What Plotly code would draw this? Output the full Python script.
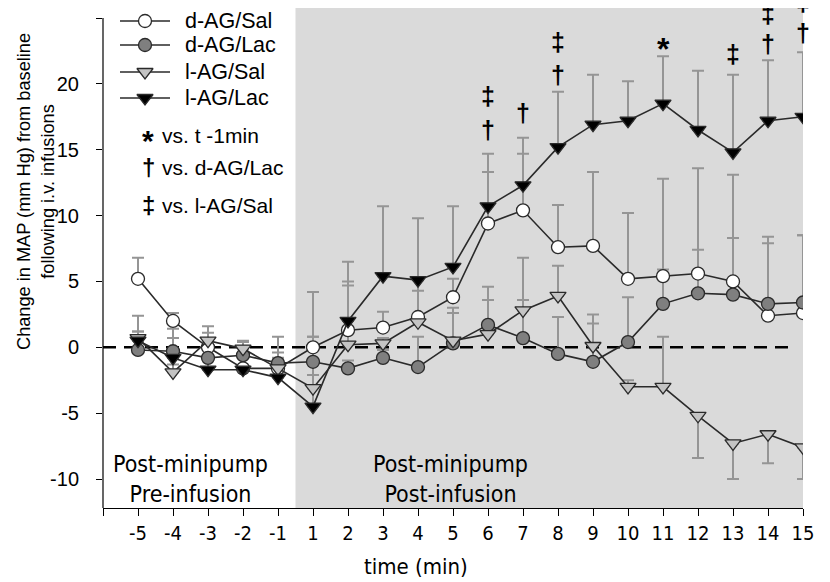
import plotly.graph_objects as go

# ---- data ----
time_labels = ["-5", "-4", "-3", "-2", "-1", "1", "2", "3", "4", "5", "6", "7",
               "8", "9", "10", "11", "12", "13", "14", "15"]
positions = list(range(1, 21))

y_tick_vals = [-10, -5, 0, 5, 10, 15, 20, 25]
y_tick_text = ["-10", "-5", "0", "5", "10", "15", "20", "25"]

dAG_Sal = [5.2, 2.0, 0.0, -1.6, -1.6, 0.0, 1.3, 1.5, 2.3, 3.8, 9.4, 10.4, 7.6, 7.7, 5.2, 5.4, 5.6, 5.0, 2.4, 2.6]
dAG_Sal_err = [1.6, 0.6, 1.6, 2.0, 2.4, 0.8, 3.7, 1.2, 3.0, 1.4, 3.9, 4.3, 3.2, 5.6, 5.0, 7.4, 8.0, 8.1, 6.0, 5.9]

dAG_Lac = [-0.2, -0.3, -0.8, -0.6, -1.2, -1.1, -1.6, -0.8, -1.5, 0.3, 1.7, 0.7, -0.5, -1.1, 0.4, 3.3, 4.1, 4.0, 3.3, 3.4]
dAG_Lac_err = [1.4, 1.7, 0.8, 1.0, 0.8, 1.9, 0.6, 0.6, 2.3, 2.3, 2.9, 2.9, 2.8, 2.9, 3.4, 2.6, 3.3, 4.3, 4.6, 5.1]

lAG_Sal = [0.7, -1.9, 0.5, -0.1, -1.6, -3.1, 0.2, 0.3, 1.9, 0.5, 1.0, 2.8, 3.9, 0.1, -3.0, -3.0, -5.2, -7.3, -6.6, -7.6]
lAG_Sal_err_up = [0.5, 0.6, 0.6, 0.6, 0.8, 1.0, 4.5, 0.4, 2.4, 2.5, 2.6, 4.0, 2.3, 2.4, 0.5, 3.8, 0, 0, 0, 0]
lAG_Sal_err_down = [0, 0, 0, 0, 0, 0, 0, 0, 0, 0, 0, 0, 0, 0, 0, 0, 3.2, 2.7, 2.2, 2.4]

lAG_Lac = [0.5, -0.8, -1.7, -1.7, -2.3, -4.5, 2.0, 5.4, 5.1, 6.1, 10.7, 12.3, 15.2, 16.9, 17.2, 18.5, 16.5, 14.8, 17.2, 17.5]
lAG_Lac_err = [1.9, 1.5, 1.0, 1.0, 1.3, 8.7, 4.5, 5.3, 4.7, 4.6, 4.0, 3.6, 4.2, 3.8, 3.0, 3.6, 4.5, 5.9, 4.6, 4.9]

# significance marks: (time label, symbol, y value)
sig_marks = [("6", "‡", 19.1), ("6", "†", 16.5), ("7", "†", 17.8), ("8", "‡", 23.2),
             ("8", "†", 20.7), ("11", "*", 23.0), ("13", "‡", 22.3), ("14", "‡", 25.3),
             ("14", "†", 23.0), ("15", "‡", 26.2), ("15", "†", 23.9)]

sig_legend = [("*", "vs. t -1min"), ("†", "vs. d-AG/Lac"), ("‡", "vs. l-AG/Sal")]

FONT = "Liberation Sans"
COND = "Liberation Sans Narrow, DejaVu Sans Condensed, Liberation Sans"
ERRC = "#959595"
LINEC = "#2a2a2a"

# figure pixel frame (the page adds an 8px body margin)
W, H = 822, 574
L, T, PW, PH = 95, 0, 700, 500
YMIN, YMAX = -12.2, 25.76

def px(fx):
    return (fx - L) / PW

def py(fy):
    return (T + PH - fy) / PH

fig = go.Figure()

# shaded post-infusion region
fig.add_shape(type="rect", xref="x", yref="y", x0=5.5, x1=20, y0=YMIN, y1=26,
              fillcolor="#dadada", line=dict(width=0), layer="below")
# zero dashed line
fig.add_shape(type="line", xref="x", yref="y", x0=0, x1=19.8, y0=0, y1=0,
              line=dict(color="black", width=2.5, dash="13px,8px"), layer="below")
# y axis line (stops at 25)
fig.add_shape(type="line", xref="paper", yref="y", x0=0, x1=0, y0=YMIN, y1=25,
              line=dict(color="black", width=1.2))

def err(arr, minus):
    return dict(type="data", array=arr, arrayminus=minus, symmetric=False,
                color=ERRC, thickness=2, width=6)

series = [
    ("d-AG/Sal", dAG_Sal, err(dAG_Sal_err, [0]*20), "circle", "white", 13),
    ("d-AG/Lac", dAG_Lac, err(dAG_Lac_err, [0]*20), "circle", "#7f7f7f", 13),
    ("l-AG/Sal", lAG_Sal, err(lAG_Sal_err_up, lAG_Sal_err_down), "triangle-down", "#c4c4c4", 14),
    ("l-AG/Lac", lAG_Lac, err(lAG_Lac_err, [0]*20), "triangle-down", "black", 14),
]

# error bars first (drawn underneath markers)
for name, ys, e, sym, fill, sz in series:
    fig.add_trace(go.Scatter(x=positions, y=ys, mode="markers", error_y=e,
                             marker=dict(size=1, opacity=0), showlegend=False,
                             hoverinfo="skip"))
for name, ys, e, sym, fill, sz in series:
    fig.add_trace(go.Scatter(x=positions, y=ys, mode="lines+markers", name=name,
                             showlegend=False,
                             line=dict(color=LINEC, width=1.6),
                             marker=dict(symbol=sym, size=sz, color=fill,
                                         line=dict(color=LINEC, width=1.3))))

# hand-drawn legend on a pixel-unit overlay axis
legend_rows = [13, 37, 64, 90]
for (name, ys, e, sym, fill, sz), fy in zip(series, legend_rows):
    fig.add_trace(go.Scatter(x=[17, 67], y=[fy, fy], mode="lines", xaxis="x2", yaxis="y2",
                             line=dict(color=LINEC, width=1.6), showlegend=False,
                             hoverinfo="skip"))
    fig.add_trace(go.Scatter(x=[42], y=[fy], mode="markers", xaxis="x2", yaxis="y2",
                             marker=dict(symbol=sym, size=sz, color=fill,
                                         line=dict(color=LINEC, width=1.3)),
                             showlegend=False, hoverinfo="skip"))
    fig.add_annotation(x=px(175), y=py(fy), xref="paper", yref="paper", text=name,
                       showarrow=False, xanchor="left", yanchor="middle",
                       font=dict(family=FONT, size=21.5, color="black"))

for lab, s, yv in sig_marks:
    ys = 0
    yv2 = yv
    if yv > YMAX:
        ys = (yv - 25.7) * 13.17
        yv2 = 25.7
    fig.add_annotation(x=positions[time_labels.index(lab)], y=yv2, xref="x", yref="y",
                       text="<b>" + s + "</b>", showarrow=False, yanchor="middle",
                       yshift=ys - (5 if s == "*" else 0),
                       font=dict(family=FONT, size=25 if s != "*" else 32, color="black"))

for i, (s, t) in enumerate(sig_legend):
    fy = [127, 160, 197][i]
    fig.add_annotation(x=px(140), y=py(fy), xref="paper", yref="paper",
                       text="<b>" + s + "</b>", showarrow=False, xanchor="center", yanchor="middle",
                       yshift=-5 if s == "*" else 0,
                       font=dict(family=FONT, size=24 if s != "*" else 30, color="black"))
    fig.add_annotation(x=px(152), y=py(fy), xref="paper", yref="paper",
                       text=t, showarrow=False, xanchor="left", yanchor="middle",
                       font=dict(family=FONT, size=21, color="black"))

# region labels
fig.add_annotation(x=2.49, y=-10.0, xref="x", yref="y", text="Post-minipump<br>Pre-infusion",
                   showarrow=False, font=dict(family=COND, size=23, color="black"))
fig.add_annotation(x=9.93, y=-10.0, xref="x", yref="y", text="Post-minipump<br>Post-infusion",
                   showarrow=False, font=dict(family=COND, size=23, color="black"))

# axis titles
fig.add_annotation(x=px(28), y=py(184), xref="paper", yref="paper",
                   xanchor="center", yanchor="middle",
                   text="Change in MAP (mm Hg) from baseline<br>following i.v. infusions",
                   textangle=-90, showarrow=False,
                   font=dict(family=FONT, size=18.2, color="black"))
fig.add_annotation(x=px(408), y=py(559), xref="paper", yref="paper",
                   xanchor="center", yanchor="middle",
                   text="time (min)", showarrow=False,
                   font=dict(family=COND, size=22, color="black"))

fig.update_layout(
    width=W, height=H,
    margin=dict(l=L, r=W - L - PW, t=T, b=H - T - PH, pad=0),
    plot_bgcolor="white", paper_bgcolor="white",
    font=dict(family=FONT, color="black"),
    showlegend=False,
    xaxis=dict(range=[0, 20], tickvals=[0] + positions, ticktext=[""] + time_labels,
               showgrid=False, zeroline=False, showline=True, linecolor="black",
               linewidth=1.2, ticks="outside", ticklen=7, tickcolor="black",
               tickfont=dict(family=COND, size=20)),
    yaxis=dict(range=[YMIN, YMAX], tickvals=y_tick_vals, ticktext=y_tick_text,
               showgrid=False, zeroline=False, showline=False,
               ticks="outside", ticklen=6, tickcolor="black", ticklabelstandoff=13,
               tickfont=dict(family=FONT, size=20)),
    xaxis2=dict(overlaying="x", range=[0, PW], visible=False, anchor="y2"),
    yaxis2=dict(overlaying="y", range=[PH, 0], visible=False, anchor="x2"),
)

fig.write_html("out.html")
